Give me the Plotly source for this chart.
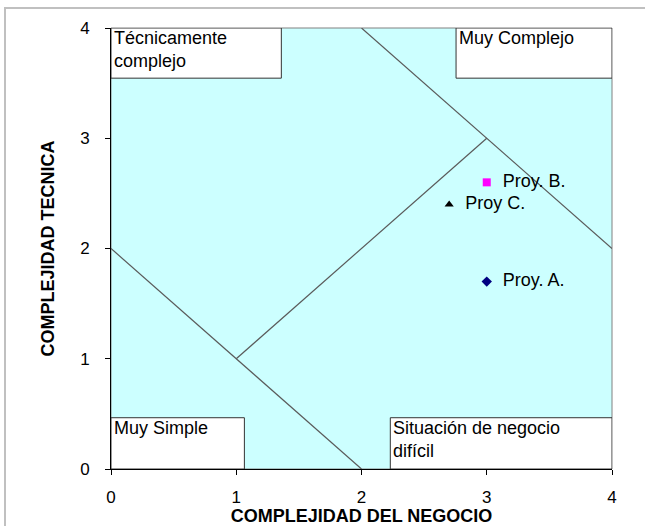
import plotly.graph_objects as go

# Projects
proyectos = ["Proy. A.", "Proy. B.", "Proy C."]
negocio = [3.0, 3.0, 2.7]
tecnica = [1.7, 2.6, 2.4]
simbolos = ["diamond", "square", "triangle-up"]
colores = ["#000080", "#FF00FF", "#000000"]

# Region boundary lines
lineas_x = [[0, 2], [1, 3], [2, 4]]
lineas_y = [[2, 0], [1, 3], [4, 2]]

# Labelled corner boxes: text, x0, x1, y0, y1
cajas_texto = ["Técnicamente<br>complejo", "Muy Complejo", "Muy Simple", "Situación de negocio<br>difícil"]
cajas_x0 = [0, 2.755, 0, 2.23]
cajas_x1 = [1.36, 4, 1.065, 4]
cajas_y0 = [3.545, 3.545, 0, 0]
cajas_y1 = [4, 4, 0.465, 0.465]

FONT = "Liberation Sans, Arial, sans-serif"

fig = go.Figure()

for lx, ly in zip(lineas_x, lineas_y):
    fig.add_trace(go.Scatter(x=lx, y=ly, mode="lines",
                             line=dict(color="#5a5a5a", width=1.2),
                             hoverinfo="skip", showlegend=False))

for nombre, xv, yv, s, c in zip(proyectos, negocio, tecnica, simbolos, colores):
    fig.add_trace(go.Scatter(x=[xv], y=[yv], mode="markers+text", text=[nombre],
                             texttemplate="  %{text}",
                             textposition="middle right",
                             textfont=dict(family=FONT, size=18, color="#000000"),
                             marker=dict(symbol=s, color=c, size=8),
                             showlegend=False))

shapes = [
    # outer chart border
    dict(type="rect", xref="paper", yref="paper", x0=-0.2116, x1=1.2, y0=-0.3, y1=1.0454,
         line=dict(color="#c0c0c0", width=2), fillcolor="rgba(0,0,0,0)", layer="below"),
    # plot area border
    dict(type="rect", xref="paper", yref="paper", x0=0, x1=1, y0=0, y1=1,
         line=dict(color="#808080", width=1), fillcolor="rgba(0,0,0,0)", layer="below"),
]
annotations = []
for t, x0, x1, y0, y1 in zip(cajas_texto, cajas_x0, cajas_x1, cajas_y0, cajas_y1):
    shapes.append(dict(type="rect", xref="x", yref="y", x0=x0, x1=x1, y0=y0, y1=y1,
                       fillcolor="white", line=dict(color="#333333", width=1), layer="above"))
    annotations.append(dict(x=x0, y=y1, xref="x", yref="y", text=t, showarrow=False,
                            xanchor="left", yanchor="top", align="left",
                            xshift=2, yshift=1, borderpad=0,
                            font=dict(family=FONT, size=18, color="#000000")))

fig.update_layout(
    width=645, height=526,
    margin=dict(l=111, r=33, t=28, b=57),
    paper_bgcolor="white",
    plot_bgcolor="#CCFFFF",
    shapes=shapes,
    annotations=annotations,
    font=dict(family=FONT, color="#000000"),
    xaxis=dict(range=[0, 4], dtick=1, showgrid=False, zeroline=False,
               showline=True, linecolor="#000000", linewidth=1,
               ticks="outside", ticklen=5, tickcolor="#000000",
               tickfont=dict(size=17), ticklabelstandoff=8, automargin=False,
               title=dict(text="<b>COMPLEJIDAD DEL NEGOCIO</b>", standoff=0,
                          font=dict(size=18))),
    yaxis=dict(range=[0, 4], dtick=1, showgrid=False, zeroline=False,
               showline=True, linecolor="#000000", linewidth=1,
               ticks="outside", ticklen=5, tickcolor="#000000",
               tickfont=dict(size=17), ticklabelstandoff=12, automargin=False,
               title=dict(text="<b>COMPLEJIDAD TECNICA</b>", standoff=20,
                          font=dict(size=18))),
)

fig.write_html("out.html", config={"displayModeBar": False},
               post_script="document.body.style.margin='0';")
